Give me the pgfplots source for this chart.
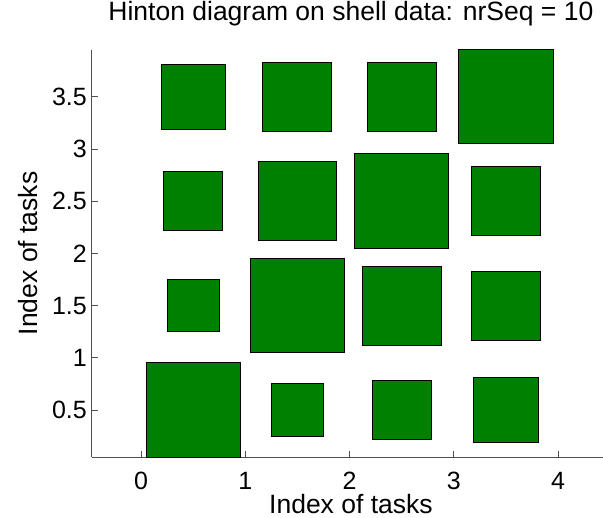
\documentclass[border=0pt]{standalone}
\usepackage{pgfplots}
\pgfplotsset{compat=1.18}
\usepackage{fontspec}
\setmainfont{Liberation Sans}
\definecolor{hgreen}{RGB}{0,128,0}
\definecolor{axgray}{RGB}{80,80,80}
\begin{document}
\begin{tikzpicture}
\begin{axis}[
  at={(91.7pt,-457.2pt)}, anchor=south west,
  x=104.25pt, y=104.43pt,
  xmin=-0.473, xmax=4.5, ymin=0.048, ymax=3.951,
  axis x line*=bottom, axis y line*=left,
  axis line style={-, axgray, line width=0.6pt},
  xtick={0,1,2,3,4}, ytick={0.5,1,1.5,2,2.5,3,3.5},
  tick align=inside, major tick length=6pt,
  tick style={axgray, line width=0.6pt},
  /pgf/number format/assume math mode=true,
  tick label style={font=\fontsize{25}{25}\selectfont},
  xticklabel style={anchor=north, inner sep=0pt, yshift=-14.5pt},
  yticklabel style={anchor=east, inner sep=0pt, xshift=-4.7pt},
  title={Hinton diagram on shell data: nrSeq = 10},
  title style={at={(0.5,1)}, anchor=base, yshift=23pt, inner sep=0pt, font=\fontsize{26.5}{26.5}\selectfont},
  xlabel={Index of tasks},
  xlabel style={at={(axis description cs:0.5,0)}, anchor=base, yshift=-56.5pt, inner sep=0pt, font=\fontsize{26.5}{26.5}\selectfont},
  ylabel={Index of tasks},
  ylabel style={at={(axis description cs:-0.1042,0.5)}, anchor=base, rotate=0, inner sep=0pt, font=\fontsize{26.5}{26.5}\selectfont},
  clip=false,
]
% row 1 (y = 0.5)
\addplot[fill=hgreen, draw=black, line width=0.8pt] coordinates {(0.048,0.048) (0.952,0.048) (0.952,0.952) (0.048,0.952)} -- cycle;
\addplot[fill=hgreen, draw=black, line width=0.8pt] coordinates {(1.247,0.247) (1.753,0.247) (1.753,0.753) (1.247,0.753)} -- cycle;
\addplot[fill=hgreen, draw=black, line width=0.8pt] coordinates {(2.218,0.218) (2.782,0.218) (2.782,0.782) (2.218,0.782)} -- cycle;
\addplot[fill=hgreen, draw=black, line width=0.8pt] coordinates {(3.192,0.192) (3.808,0.192) (3.808,0.808) (3.192,0.808)} -- cycle;
% row 2 (y = 1.5)
\addplot[fill=hgreen, draw=black, line width=0.8pt] coordinates {(0.249,1.249) (0.751,1.249) (0.751,1.751) (0.249,1.751)} -- cycle;
\addplot[fill=hgreen, draw=black, line width=0.8pt] coordinates {(1.049,1.049) (1.951,1.049) (1.951,1.951) (1.049,1.951)} -- cycle;
\addplot[fill=hgreen, draw=black, line width=0.8pt] coordinates {(2.123,1.123) (2.877,1.123) (2.877,1.877) (2.123,1.877)} -- cycle;
\addplot[fill=hgreen, draw=black, line width=0.8pt] coordinates {(3.169,1.169) (3.831,1.169) (3.831,1.831) (3.169,1.831)} -- cycle;
% row 3 (y = 2.5)
\addplot[fill=hgreen, draw=black, line width=0.8pt] coordinates {(0.219,2.219) (0.781,2.219) (0.781,2.781) (0.219,2.781)} -- cycle;
\addplot[fill=hgreen, draw=black, line width=0.8pt] coordinates {(1.124,2.124) (1.876,2.124) (1.876,2.876) (1.124,2.876)} -- cycle;
\addplot[fill=hgreen, draw=black, line width=0.8pt] coordinates {(2.047,2.047) (2.953,2.047) (2.953,2.953) (2.047,2.953)} -- cycle;
\addplot[fill=hgreen, draw=black, line width=0.8pt] coordinates {(3.169,2.169) (3.831,2.169) (3.831,2.831) (3.169,2.831)} -- cycle;
% row 4 (y = 3.5)
\addplot[fill=hgreen, draw=black, line width=0.8pt] coordinates {(0.191,3.191) (0.809,3.191) (0.809,3.809) (0.191,3.809)} -- cycle;
\addplot[fill=hgreen, draw=black, line width=0.8pt] coordinates {(1.169,3.169) (1.831,3.169) (1.831,3.831) (1.169,3.831)} -- cycle;
\addplot[fill=hgreen, draw=black, line width=0.8pt] coordinates {(2.168,3.168) (2.832,3.168) (2.832,3.832) (2.168,3.832)} -- cycle;
\addplot[fill=hgreen, draw=black, line width=0.8pt] coordinates {(3.049,3.049) (3.951,3.049) (3.951,3.951) (3.049,3.951)} -- cycle;
\end{axis}
\pgfresetboundingbox
\useasboundingbox (0,0) rectangle (603pt,-518pt);
\end{tikzpicture}
\end{document}
